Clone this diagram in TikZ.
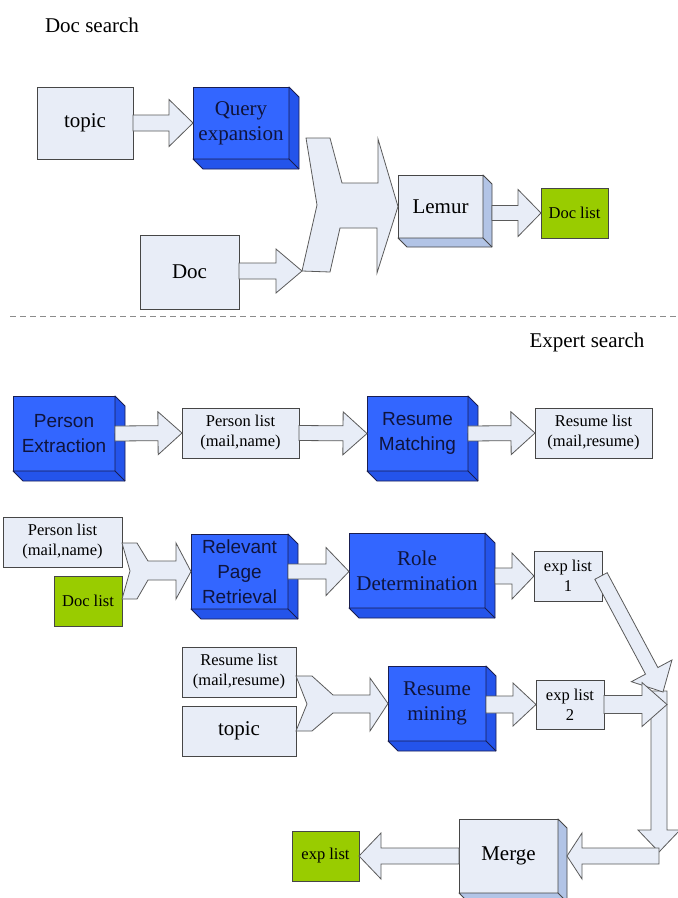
\documentclass[tikz,border=0pt]{standalone}
\usepackage{fontspec}
\setmainfont{Liberation Serif}
\newfontfamily\serifam{Liberation Serif}
\newfontfamily\sansfam{Liberation Sans}
\usetikzlibrary{calc}

\definecolor{boxfill}{RGB}{232,237,247}
\definecolor{boxline}{RGB}{70,70,70}
\definecolor{procblue}{RGB}{51,102,255}
\definecolor{procside}{RGB}{36,84,235}
\definecolor{procline}{RGB}{25,30,80}
\definecolor{proctext}{RGB}{15,20,60}
\definecolor{lightside}{RGB}{178,196,230}
\definecolor{listgreen}{RGB}{153,204,0}
\definecolor{arrowline}{RGB}{90,90,90}
\definecolor{sepline}{RGB}{140,140,140}

\tikzset{
  base/.style={inner sep=0pt, outer sep=0pt, align=center, line width=0.9pt},
  databox/.style={base, draw=boxline, fill=boxfill},
  greenbox/.style={base, draw=boxline, fill=listgreen},
  procbox/.style={base, draw=procline, fill=procblue, text=proctext},
  lightproc/.style={base, draw=boxline, fill=boxfill},
  bigtext/.style={font=\serifam\fontsize{21}{25}\selectfont},
  smalltext/.style={font=\serifam\fontsize{16.5}{20}\selectfont},
  sanstext/.style={font=\sansfam\fontsize{19}{25}\selectfont},
  titletext/.style={font=\serifam\fontsize{21}{25}\selectfont},
  blockarrow/.style={draw=arrowline, fill=boxfill, line width=0.8pt, line join=miter},
}

% side and bottom faces of a raised box
\newcommand\depthfaces[4]{% node, depth, face colour, outline colour
  \filldraw[fill=#3, draw=#4, line width=0.9pt, line join=round]
    (#1.north east) -- ++(#2,#2) -- ($(#1.south east)+(#2,#2)$)
    -- ($(#1.south west)+(#2,#2)$) -- (#1.south west) -- (#1.south east) -- cycle;
  \draw[#4, line width=0.9pt] (#1.south east) -- ++(#2,#2);
}

% wide hollow arrow from #1 to #2
\newcommand\blockarrow[5]{% start, end, shaft half-width, head half-width, head length
  \coordinate (ba-s) at #1;
  \coordinate (ba-e) at #2;
  \coordinate (ba-h) at ($(ba-e)!#5pt!(ba-s)$);
  \filldraw[blockarrow]
    ($(ba-s)!#3pt!90:(ba-e)$) -- ($(ba-h)!#3pt!90:(ba-e)$) -- ($(ba-h)!#4pt!90:(ba-e)$)
    -- (ba-e)
    -- ($(ba-h)!#4pt!-90:(ba-e)$) -- ($(ba-h)!#3pt!-90:(ba-e)$) -- ($(ba-s)!#3pt!-90:(ba-e)$)
    -- cycle;
}

\begin{document}
\begin{tikzpicture}[x=1pt, y=-1pt]
\useasboundingbox (0,0) rectangle (678,898);
\clip (0,0) rectangle (678,898);

% ---------------- Doc search ----------------
\node[titletext] (titleA) at (92,25) {Doc search};

\node[databox, bigtext, minimum width=96, minimum height=72] (topicA) at (85,123) {topic};
\node[procbox, bigtext, minimum width=96, minimum height=72] (query) at (241,123) {Query\\expansion};
\depthfaces{query}{10}{procside}{procline}
\node[databox, bigtext, minimum width=99, minimum height=74] (docA) at (189.5,272) {Doc};
\node[lightproc, bigtext, minimum width=85, minimum height=63] (lemur) at (440.5,206.5) {Lemur};
\depthfaces{lemur}{9}{lightside}{boxline}
\node[greenbox, smalltext, minimum width=67, minimum height=50] (doclistA) at (574.5,213) {Doc list};

\blockarrow{(topicA.east)}{(query.west)}{8}{23.5}{24}
\coordinate (joinA) at (302,271);
\blockarrow{(docA.east |- joinA)}{(joinA)}{8}{22}{26}
% two inputs joined into Lemur
\filldraw[blockarrow] (306,138) -- (330,138) -- (342,183) -- (378,183) -- (378,139)
  -- (lemur.west) -- (377,273) -- (377,228) -- (340,228) -- (330,272) -- (joinA)
  -- (317,205) -- cycle;
\blockarrow{([xshift=9pt]lemur.east |- doclistA.west)}{(doclistA.west)}{7.5}{23.5}{23}

% separator
\draw[sepline, line width=1pt, dash pattern=on 6pt off 4pt] (10,316) -- (678,316);

% ---------------- Expert search ----------------
\node[titletext] (titleB) at (587,342) {Expert search};

% row 1
\node[procbox, sanstext, minimum width=102, minimum height=75] (personex) at (64,433.5) {Person\\Extraction};
\depthfaces{personex}{10}{procside}{procline}
\node[databox, smalltext, minimum width=117, minimum height=50] (personlistA) at (240.5,433) {Person list\\(mail,name)};
\node[procbox, sanstext, minimum width=101, minimum height=75] (resumematch) at (417.5,433.5) {Resume\\Matching};
\depthfaces{resumematch}{10}{procside}{procline}
\node[databox, smalltext, minimum width=117, minimum height=50] (resumelistA) at (593.5,433) {Resume list\\(mail,resume)};

\blockarrow{(personex.east)}{(personlistA.west)}{7.5}{21.5}{24}
\blockarrow{(personlistA.east)}{(resumematch.west)}{7.5}{21.5}{24}
\blockarrow{(resumematch.east)}{(resumelistA.west)}{7.5}{21.5}{24}

% row 2
\node[databox, smalltext, minimum width=119, minimum height=50] (personlistB) at (62.5,542) {Person list\\(mail,name)};
\node[greenbox, smalltext, minimum width=68, minimum height=50] (doclistB) at (88,601) {Doc list};
\node[procbox, sanstext, minimum width=97, minimum height=75] (relevant) at (239.5,571.5) {Relevant\\Page\\Retrieval};
\depthfaces{relevant}{10}{procside}{procline}
\node[procbox, bigtext, minimum width=136, minimum height=75] (role) at (417,570.5) {Role\\Determination};
\depthfaces{role}{10}{procside}{procline}
\node[databox, smalltext, minimum width=68, minimum height=50] (explistA) at (568,576) {exp list\\1};

\filldraw[blockarrow] (personlistB.east |- 0,543) -- (137,543) -- (148,561) -- (176,561) -- (176,543)
  -- (relevant.west) -- (176,599) -- (176,580) -- (148,580) -- (137,599) -- (doclistB.east |- 0,599)
  -- (130,571) -- cycle;
\blockarrow{(relevant.east)}{(role.west |- relevant.east)}{7.5}{24}{23}
\blockarrow{([xshift=10pt]role.east |- explistA.west)}{(explistA.west)}{8}{23}{22}

% row 3
\node[databox, smalltext, minimum width=114, minimum height=50] (resumelistB) at (239,672) {Resume list\\(mail,resume)};
\node[databox, bigtext, minimum width=114, minimum height=50] (topicB) at (239,731) {topic};
\node[procbox, bigtext, minimum width=98, minimum height=75] (resumemining) at (437,703.5) {Resume\\mining};
\depthfaces{resumemining}{10}{procside}{procline}
\node[databox, smalltext, minimum width=68, minimum height=49] (explistB) at (570,704.5) {exp list\\2};

\filldraw[blockarrow] (resumelistB.east |- 0,676) -- (312,676) -- (333,695) -- (370,695) -- (370,678)
  -- (resumemining.west) -- (370,731) -- (370,713) -- (333,713) -- (312,731) -- (topicB.east |- 0,731)
  -- (307,704) -- cycle;
\blockarrow{(resumemining.east |- explistB.west)}{(explistB.west)}{8.5}{21.5}{23}

% merging the two expert lists
\node[lightproc, bigtext, minimum width=99, minimum height=74] (merge) at (508.5,856) {Merge};
\depthfaces{merge}{9}{lightside}{boxline}
\node[greenbox, smalltext, minimum width=67, minimum height=50] (explistC) at (325.5,856) {exp list};

\coordinate (joinT) at (663,692);
\coordinate (joinR) at (667,704.5);
\coordinate (elbow) at (659,856);
\blockarrow{(659,691)}{([yshift=4pt]elbow)}{8}{21}{22}
\blockarrow{([xshift=-1pt]explistA.east)}{(joinT)}{7}{23}{24}
\blockarrow{(explistB.east)}{(joinR)}{9}{22}{25}
\blockarrow{(elbow)}{([xshift=9pt]merge.east)}{8}{23}{15}
\blockarrow{(merge.west)}{(explistC.east)}{8}{23}{22}

\end{tikzpicture}
\end{document}
